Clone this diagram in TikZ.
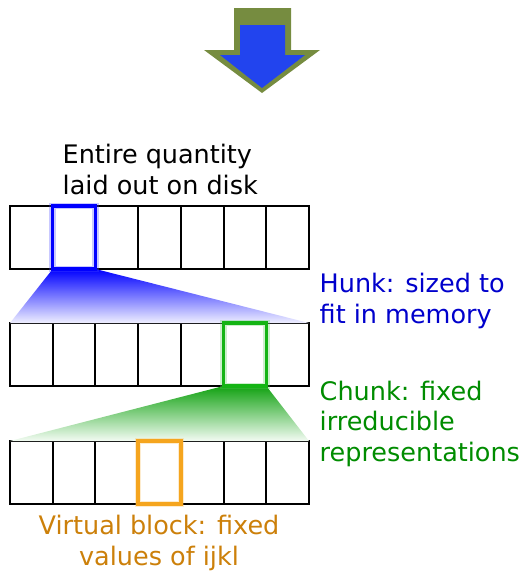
\documentclass[tikz,border=0pt]{standalone}
\usepackage{fontspec}
\setmainfont{DejaVu Sans}
\definecolor{olivea}{RGB}{118,140,64}
\definecolor{arrowblue}{RGB}{34,68,238}
\definecolor{hunkblue}{RGB}{0,0,204}
\definecolor{chunkgreen}{RGB}{0,140,0}
\definecolor{hlgreen}{RGB}{20,180,20}
\definecolor{vborange}{RGB}{204,128,10}
\definecolor{hlorange}{RGB}{245,165,30}
\begin{document}
\begin{tikzpicture}[x=1pt,y=-1pt,
  cell/.style={draw=black,line width=2pt,minimum width=42.714pt,minimum height=63pt,inner sep=0pt,outer sep=0pt},
  lbl/.style={inner sep=0pt,font=\fontsize{25.5}{30.5}\selectfont},
  glow/.style={line width=6.5pt,opacity=0.3},
  hl/.style={line width=3.5pt}]
\useasboundingbox (0,0) rectangle (522,573);
% arrow
\fill[olivea] (234,8) -- (291,8) -- (291,50) -- (320,50) -- (262,93) -- (204,50) -- (234,50) -- cycle;
\fill[arrowblue] (240,25) -- (285,25) -- (285,55) -- (305,55) -- (262,88) -- (220,55) -- (240,55) -- cycle;
% rows
\foreach \i in {1,...,7} {
  \node[cell] (a\i) at ({10+42.714*(\i-0.5)},237.5) {};
  \node[cell] (b\i) at ({10+42.714*(\i-0.5)},354.5) {};
  \node[cell] (c\i) at ({10+42.714*(\i-0.5)},472.5) {};
}
% fans
\shade[top color=blue, bottom color=blue!6] (a2.south west) -- (a2.south east) -- (b7.north east) -- (b1.north west) -- cycle;
\shade[top color=hlgreen!90!black, bottom color=hlgreen!5] (b6.south west) -- (b6.south east) -- (c7.north east) -- (c1.north west) -- cycle;
% highlights
\draw[glow,blue!70] (a2.south west) rectangle (a2.north east);
\draw[hl,blue] (a2.south west) rectangle (a2.north east);
\draw[glow,hlgreen!70] (b6.south west) rectangle (b6.north east);
\draw[hl,hlgreen] (b6.south west) rectangle (b6.north east);
\draw[glow,hlorange!70] (c4.south west) rectangle (c4.north east);
\draw[hl,hlorange] (c4.south west) rectangle (c4.north east);
% labels (base anchor = baseline of last line)
\node[lbl,anchor=base west,align=left] (t1) at (62.5,194) {Entire quantity\\laid out on disk};
\node[lbl,anchor=base west,align=left,text=hunkblue] (t2) at (319.5,323) {Hunk: sized to\\fit in memory};
\node[lbl,anchor=base west,align=left,text=chunkgreen] (t3) at (319.5,461) {Chunk: fixed\\irreducible\\representations};
\node[lbl,anchor=base,align=center,text=vborange] (t4) at (159,565) {Virtual block: fixed\\values of ijkl};
\end{tikzpicture}
\end{document}
